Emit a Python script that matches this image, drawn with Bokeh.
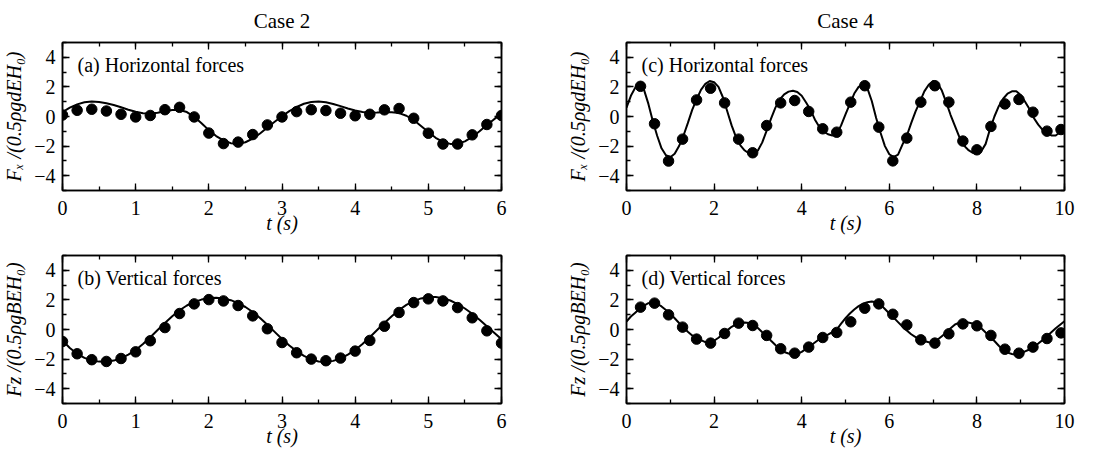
from bokeh.plotting import figure
from bokeh.models import (LinearAxis, SingleIntervalTicker, Range1d, Label, ColumnDataSource,
                          CustomLabelingPolicy)
from bokeh.layouts import column, row
from bokeh.embed import file_html
from bokeh.resources import INLINE

FONT = "Liberation Serif"

# ---------------- data ----------------
case2_dot_t = [0.0, 0.2, 0.4, 0.6, 0.8, 1.0, 1.2, 1.4, 1.6, 1.8, 2.0, 2.2, 2.4, 2.6, 2.8, 3.0,
               3.2, 3.4, 3.6, 3.8, 4.0, 4.2, 4.4, 4.6, 4.8, 5.0, 5.2, 5.4, 5.6, 5.8, 6.0]
case4_dot_t = [0.32, 0.64, 0.96, 1.28, 1.60, 1.92, 2.24, 2.56, 2.88, 3.20, 3.52, 3.84, 4.16, 4.48,
               4.80, 5.12, 5.44, 5.76, 6.08, 6.40, 6.72, 7.04, 7.36, 7.68, 8.00, 8.32, 8.64, 8.96,
               9.28, 9.60, 9.92]
case2_line_t = [round(i * 0.1, 2) for i in range(61)]
case4_line_t = [round(i * 0.1, 2) for i in range(101)]

a_dots = [0.10, 0.42, 0.49, 0.37, 0.15, -0.03, 0.07, 0.46, 0.62, -0.03, -1.12, -1.83, -1.73, -1.22,
          -0.57, -0.03, 0.33, 0.46, 0.40, 0.22, 0.05, 0.15, 0.45, 0.54, -0.12, -1.13, -1.86, -1.86,
          -1.24, -0.54, 0.07]
a_line = [0.30, 0.60, 0.82, 0.96, 1.01, 0.98, 0.90, 0.78, 0.62, 0.46,
          0.32, 0.22, 0.20, 0.26, 0.36, 0.44, 0.44, 0.30, -0.02, -0.45,
          -0.92, -1.32, -1.62, -1.80, -1.84, -1.74, -1.50, -1.15, -0.74, -0.36,
          0.02, 0.36, 0.64, 0.86, 0.98, 1.01, 0.96, 0.85, 0.70, 0.54,
          0.40, 0.30, 0.26, 0.27, 0.29, 0.29, 0.23, 0.05, -0.24, -0.64,
          -1.05, -1.44, -1.72, -1.85, -1.84, -1.68, -1.38, -1.00, -0.58, -0.18,
          0.18]

b_dots = [-0.81, -1.64, -2.04, -2.16, -1.96, -1.51, -0.76, 0.13, 1.08, 1.73, 2.02, 1.93, 1.62, 0.92,
          0.05, -0.88, -1.57, -2.00, -2.11, -1.93, -1.46, -0.74, 0.22, 1.15, 1.82, 2.07, 1.93, 1.48,
          0.79, -0.09, -0.92]
b_line = [-0.74, -1.25, -1.64, -1.92, -2.09, -2.17, -2.18, -2.10, -1.94, -1.70,
          -1.38, -0.98, -0.52, -0.04, 0.44, 0.90, 1.30, 1.62, 1.86, 2.02,
          2.11, 2.14, 2.10, 1.98, 1.78, 1.52, 1.18, 0.78, 0.32, -0.16,
          -0.64, -1.08, -1.46, -1.78, -2.02, -2.16, -2.19, -2.12, -1.96, -1.70,
          -1.38, -0.98, -0.52, -0.04, 0.44, 0.90, 1.32, 1.66, 1.92, 2.10,
          2.19, 2.20, 2.12, 1.96, 1.72, 1.42, 1.06, 0.66, 0.22, -0.22,
          -0.66]

c_dots = [2.04, -0.49, -3.01, -1.53, 1.12, 1.91, 0.92, -1.53, -2.45, -0.61, 0.92, 1.08, 0.34, -0.83,
          -1.06, 0.97, 2.08, -0.72, -3.00, -1.46, 0.97, 2.08, 0.97, -1.66, -2.25, -0.67, 0.85, 1.15,
          0.29, -0.99, -0.88]
c_line = [0.60, 1.40, 1.95, 2.18, 1.80, 0.85, -0.30, -1.30, -2.15, -2.62,
          -2.75, -2.52, -2.00, -1.30, -0.45, 0.45, 1.15, 1.80, 2.20, 2.40,
          2.32, 2.00, 1.30, 0.35, -0.60, -1.40, -1.95, -2.30, -2.50, -2.52,
          -2.30, -1.75, -0.95, -0.15, 0.60, 1.15, 1.50, 1.68, 1.74, 1.65,
          1.40, 0.95, 0.45, -0.20, -0.70, -1.00, -1.20, -1.28, -1.18, -0.60,
          0.15, 0.85, 1.55, 2.00, 2.18, 1.90, 1.05, -0.10, -1.10, -2.00,
          -2.55, -2.75, -2.58, -1.90, -1.30, -0.45, 0.35, 1.00, 1.70, 2.15,
          2.40, 2.25, 1.75, 0.95, 0.10, -0.65, -1.40, -1.95, -2.25, -2.45,
          -2.50, -2.35, -1.85, -0.85, 0.00, 0.70, 1.20, 1.55, 1.70, 1.70,
          1.45, 1.00, 0.50, -0.10, -0.55, -0.90, -1.15, -1.28, -1.28, -1.05,
          -0.65]

d_dots = [1.51, 1.78, 0.99, 0.16, -0.65, -0.92, -0.27, 0.43, 0.27, -0.40, -1.30, -1.60, -1.19, -0.54,
          -0.20, 0.52, 1.44, 1.73, 1.03, 0.31, -0.70, -0.92, -0.29, 0.38, 0.25, -0.40, -1.33, -1.60,
          -1.19, -0.61, -0.23]
d_line = [0.54, 0.88, 1.14, 1.40, 1.62, 1.78, 1.84, 1.74, 1.56, 1.32,
          1.06, 0.76, 0.44, 0.14, -0.15, -0.40, -0.58, -0.72, -0.85, -0.92,
          -0.76, -0.56, -0.32, -0.06, 0.18, 0.34, 0.42, 0.47, 0.44, 0.33,
          0.10, -0.18, -0.45, -0.76, -1.05, -1.33, -1.52, -1.62, -1.70, -1.64,
          -1.51, -1.31, -1.10, -0.88, -0.66, -0.46, -0.35, -0.18, 0.00, 0.40,
          0.76, 1.08, 1.35, 1.58, 1.74, 1.84, 1.89, 1.84, 1.68, 1.38,
          1.08, 0.80, 0.50, 0.20, -0.06, -0.32, -0.52, -0.66, -0.78, -0.86,
          -0.88, -0.70, -0.45, -0.20, 0.08, 0.34, 0.46, 0.49, 0.47, 0.40,
          0.28, 0.08, -0.20, -0.47, -0.78, -1.10, -1.38, -1.56, -1.65, -1.70,
          -1.62, -1.48, -1.35, -1.15, -0.95, -0.72, -0.45, -0.18, 0.08, 0.32,
          0.56]

col_titles = ["Case 2", "Case 4"]
panel_tags = ["(a) Horizontal forces", "(b) Vertical forces",
              "(c) Horizontal forces", "(d) Vertical forces"]
ylabel_h = "F\u2093 /(0.5\u03c1gdEH\u2080)"
ylabel_v = "Fz /(0.5\u03c1gBEH\u2080)"
xlabel = "t (s)"

FRAME_H = 148


def style_axis(ax, ticker, labels=True, standoff=7):
    ax.ticker = ticker
    ax.axis_line_color = "black"
    ax.axis_line_width = 1.5
    ax.major_tick_line_color = "black"
    ax.major_tick_line_width = 1.3
    ax.minor_tick_line_color = "black"
    ax.minor_tick_line_width = 1.3
    ax.major_tick_in = 7
    ax.major_tick_out = 0
    ax.minor_tick_in = 4
    ax.minor_tick_out = 0
    ax.major_label_text_font = FONT
    ax.major_label_text_color = "black"
    if labels:
        ax.major_label_text_font_size = "20px"
        ax.major_label_standoff = standoff
    else:
        # mirrored tick axis: draw no tick labels at all
        ax.major_label_text_font_size = "1px"
        ax.major_label_standoff = 0
        ax.major_label_policy = CustomLabelingPolicy(
            code="return new indices.constructor(indices.size)")


def panel(xmax, xint, fw, left, right, top, bottom, ylab, tag, dt, dv, lt, lv, title=None):
    kw = dict(frame_width=fw, frame_height=FRAME_H,
              x_range=Range1d(0, xmax), y_range=Range1d(-5, 5),
              output_backend="svg", toolbar_location=None,
              min_border_left=left, min_border_right=right,
              min_border_top=top, min_border_bottom=bottom,
              background_fill_color="white", border_fill_color="white",
              outline_line_color="black", outline_line_width=1.5)
    if title:
        kw["title"] = title
    p = figure(**kw)
    p.grid.visible = False
    if title:
        p.title.align = "center"
        p.title.vertical_align = "top"
        p.title.offset = -4
        p.title.text_font = FONT
        p.title.text_font_size = "21px"
        p.title.text_font_style = "normal"
        p.title.text_color = "black"
        p.title.text_line_height = 0.6
        p.title.standoff = 8
    xt = lambda: SingleIntervalTicker(interval=xint, num_minor_ticks=2)
    yt = lambda: SingleIntervalTicker(interval=2, num_minor_ticks=2)
    style_axis(p.xaxis[0], xt(), standoff=10)
    style_axis(p.yaxis[0], yt(), standoff=7)
    p.xaxis[0].axis_label = xlabel
    p.xaxis[0].axis_label_text_font = FONT
    p.xaxis[0].axis_label_text_font_size = "20px"
    p.xaxis[0].axis_label_text_font_style = "italic"
    p.xaxis[0].axis_label_text_color = "black"
    p.xaxis[0].axis_label_standoff = -6
    p.yaxis[0].axis_label = ylab
    p.yaxis[0].axis_label_text_font = FONT
    p.yaxis[0].axis_label_text_font_size = "20px"
    p.yaxis[0].axis_label_text_font_style = "italic"
    p.yaxis[0].axis_label_text_color = "black"
    p.yaxis[0].axis_label_standoff = 6
    top_ax = LinearAxis()
    style_axis(top_ax, xt(), labels=False)
    right_ax = LinearAxis()
    style_axis(right_ax, yt(), labels=False)
    p.add_layout(top_ax, "above")
    p.add_layout(right_ax, "right")

    src_l = ColumnDataSource(dict(t=lt, v=lv))
    src_d = ColumnDataSource(dict(t=dt, v=dv))
    p.line("t", "v", source=src_l, line_color="black", line_width=2)
    p.scatter("t", "v", source=src_d, size=10.5, fill_color="black", line_color="black")

    p.add_layout(Label(x=15, y=FRAME_H - 22, x_units="screen", y_units="screen", text=tag,
                       text_font=FONT, text_font_size="20px", text_color="black",
                       text_baseline="middle", text_align="left"))
    return p


pa = panel(6, 1, 439, 60, 57, 42, 54, ylabel_h, panel_tags[0],
           case2_dot_t, a_dots, case2_line_t, a_line, title=col_titles[0])
pb = panel(6, 1, 439, 60, 57, 11, 55, ylabel_v, panel_tags[1],
           case2_dot_t, b_dots, case2_line_t, b_line)
pc = panel(10, 2, 438, 68, 54, 42, 54, ylabel_h, panel_tags[2],
           case4_dot_t, c_dots, case4_line_t, c_line, title=col_titles[1])
pd = panel(10, 2, 438, 68, 54, 11, 55, ylabel_v, panel_tags[3],
           case4_dot_t, d_dots, case4_line_t, d_line)

layout = column(row(pa, pc), row(pb, pd))
open("out.html", "w").write(file_html(layout, INLINE))
